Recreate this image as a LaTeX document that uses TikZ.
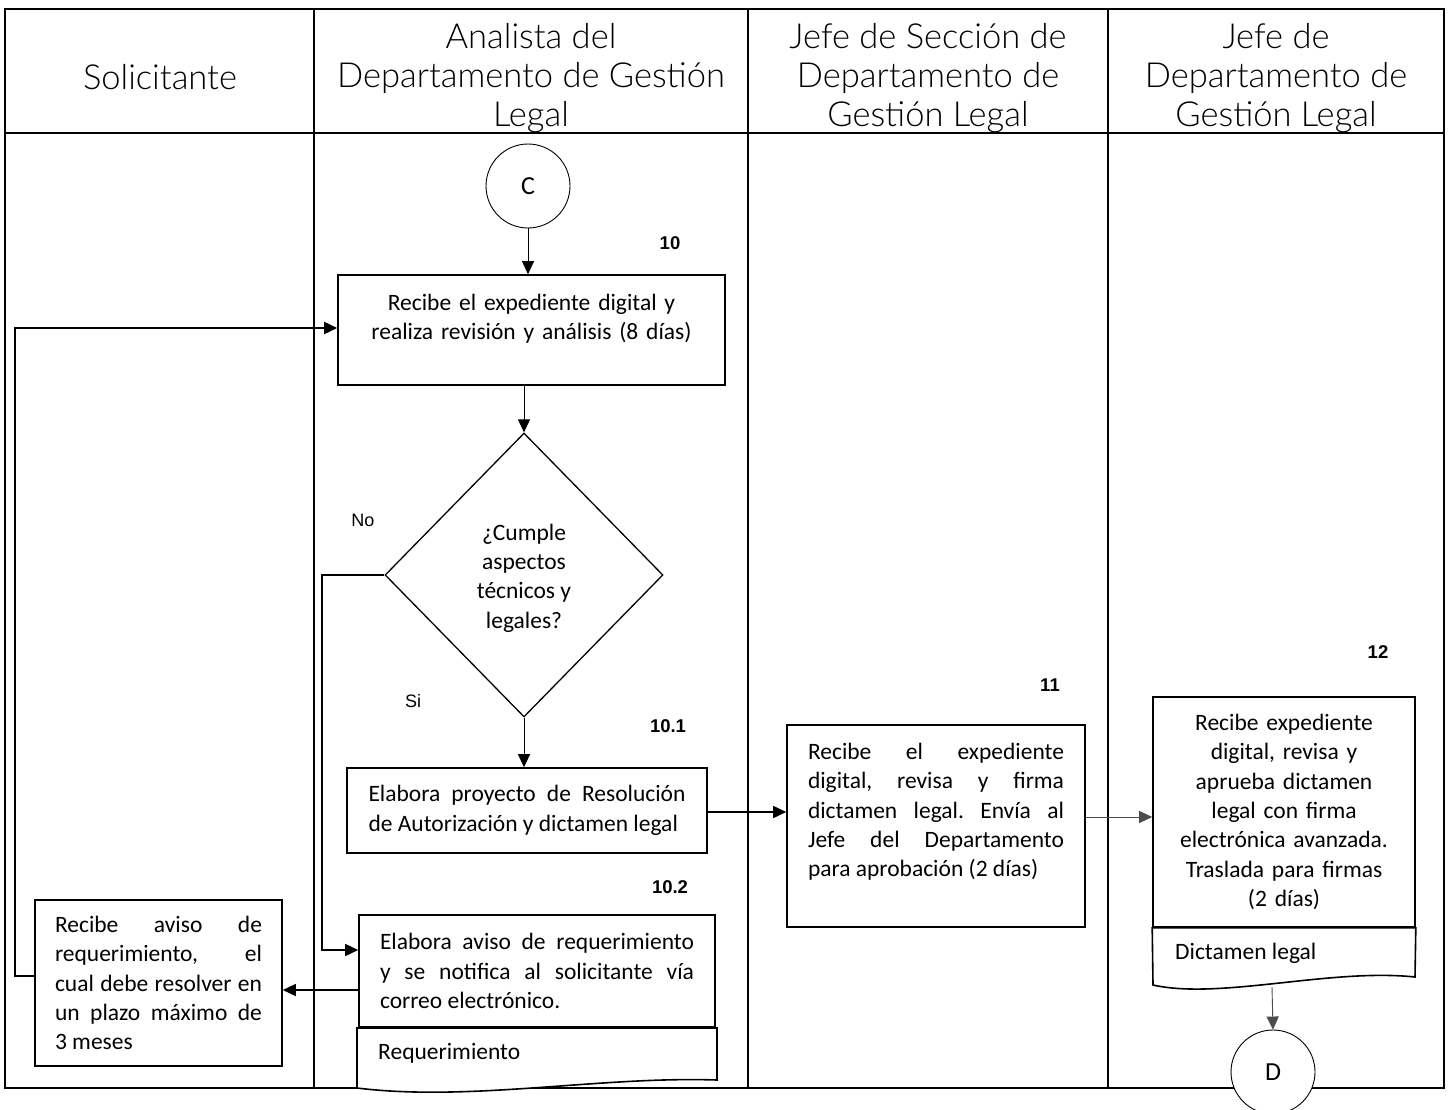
\documentclass[tikz,border=0pt]{standalone}
\usepackage{fontspec}
\setmainfont{Carlito}
\IfFontExistsTF{Lato Light}{\newfontfamily\hdrfont{Lato Light}}{\newfontfamily\hdrfont{Lato}}
\newfontfamily\arialfont{Liberation Sans}
\usetikzlibrary{arrows.meta,shapes.geometric,calc}
\frenchspacing
\begin{document}
\begin{tikzpicture}[x=1pt,y=-1pt,
  frame/.style={line width=2.4pt},
  box/.style={draw, line width=1.6pt, inner sep=0pt, font=\fontsize{23.5}{29.3}\selectfont},
  txt/.style={inner sep=0pt, font=\fontsize{23.5}{29.3}\selectfont},
  arr/.style={line width=1.6pt, -{Triangle[length=13pt,width=12pt]}},
  thinarr/.style={line width=0.9pt, -{Triangle[length=13pt,width=12pt]}},
  hdr/.style={font=\hdrfont\fontsize{34.5}{39}\selectfont, align=center, inner sep=0pt},
  num/.style={font=\arialfont\bfseries\fontsize{18.5}{21}\selectfont, inner sep=0pt},
  lbl/.style={font=\arialfont\fontsize{18}{21}\selectfont, inner sep=0pt},
  conn/.style={circle, draw, line width=0.9pt, minimum size=84pt, inner sep=0pt, fill=white, font=\fontsize{26}{30}\selectfont},
  doc/.style={draw, line width=1.6pt, fill=white}
]
\useasboundingbox (0,0) rectangle (1450,1110);
\fill[white] (0,0) rectangle (1450,1110);

% table frame
\draw[frame] (5,9) rectangle (1444,1088);
\draw[frame] (5,133) -- (1444,133);
\draw[frame] (314,9) -- (314,1088);
\draw[frame] (748,9) -- (748,1088);
\draw[frame] (1108,9) -- (1108,1088);

% headers
\node[hdr] (h1) at (160,77) {Solicitante};
\node[hdr] (h2) at (531,78) {Analista del\\Departamento de Gestión\\Legal};
\node[hdr] (h3) at (928,78) {Jefe de Sección de\\Departamento de\\Gestión Legal};
\node[hdr] (h4) at (1276,78) {Jefe de\\Departamento de\\Gestión Legal};

% connector C
\node[conn] (C) at (528,186) {C};

% step 10
\node[num] (n10) at (670,243) {10};
\node[box, minimum width=387pt, minimum height=110pt] (b10) at (531.5,330) {};
\node[txt, text width=370pt, align=center] (t10) at (531.5,318.5) {Recibe el expediente digital y\\realiza revisión y análisis (8 días)};

% decision
\node[diamond, draw, line width=1.3pt, minimum width=278pt, minimum height=284pt, inner sep=0pt, aspect=1,
      font=\fontsize{23.5}{29.3}\selectfont, align=center] (dia) at (524,575) {\\[-7pt]¿Cumple\\aspectos\\técnicos y\\legales?};
\node[lbl] (no) at (363,520) {No};
\node[lbl] (si) at (413,701) {Si};

% step 10.1
\node[num] (n101) at (668,726) {10.1};
\node[box, minimum width=360pt, minimum height=85pt, text width=317pt, align=justify] (b101) at (527,810.5)
  {Elabora proyecto de Resolución\linebreak de Autorización y dictamen legal};

% step 10.2
\node[num] (n102) at (670,887) {10.2};
\node[box, minimum width=356pt, minimum height=112pt, text width=314pt, align=justify] (b102) at (537,971)
  {Elabora aviso de requerimiento\linebreak y se notifica al solicitante vía\linebreak correo electrónico.};
\draw[doc] (357,1028) -- (717,1028) -- (717,1080) .. controls (600,1076) and (470,1102) .. (357,1088) -- cycle;
\node[txt, anchor=west] (req) at (378,1053) {Requerimiento};

% solicitante box
\node[box, minimum width=247pt, minimum height=166pt, text width=207pt, align=justify] (sol) at (158.5,983)
  {Recibe aviso de\linebreak requerimiento, el\linebreak cual debe resolver en\linebreak un plazo máximo de\linebreak 3 meses};

% step 11
\node[num] (n11) at (1050,685) {11};
\node[box, minimum width=298pt, minimum height=202pt] (b11) at (936,826) {};
\node[txt, text width=256pt, align=justify] (t11) at (936,812)
  {Recibe el expediente\linebreak digital, revisa y firma\linebreak dictamen legal. Envía al\linebreak Jefe del Departamento\linebreak para aprobación (2 días)};

% step 12
\node[num] (n12) at (1378,652) {12};
\node[box, minimum width=262pt, minimum height=230pt, text width=250pt, align=center] (b12) at (1284,812)
  {Recibe expediente\\digital, revisa y\\aprueba dictamen\\legal con firma\\electrónica avanzada.\\Traslada para firmas\\(2 días)};
\draw[doc] (b12.south west) -- (b12.south east) -- (1415,977) .. controls (1330,968) and (1220,1000) .. (1153,985) -- cycle;
\node[txt, anchor=west] (dict) at (1175,953) {Dictamen legal};
\coordinate (d12b) at (1272,987);

% connector D
\node[conn] (D) at (1273,1072) {D};

% connectors
\draw[thinarr] (C) -- (C |- b10.north);
\draw[thinarr] (dia.north |- b10.south) -- (dia.north);
\draw[thinarr] (dia.south) -- (dia.south |- b101.north);
\draw[arr] (dia.west) -- (322,575) |- (b102.west |- 0,950);
\draw[arr] (b102.west |- 0,990) -- (sol.east |- 0,990);
\draw[arr] (sol.west |- 0,976) -- (15,976) -- (15,328) -- (b10.west |- 0,328);
\draw[arr] (b101.east |- 0,812) -- (b11.west |- 0,812);
\draw[thinarr, draw=black!70] (b11.east |- 0,817) -- (b12.west |- 0,817);
\draw[thinarr, draw=black!70] (d12b) -- (D.north);
\end{tikzpicture}
\end{document}
